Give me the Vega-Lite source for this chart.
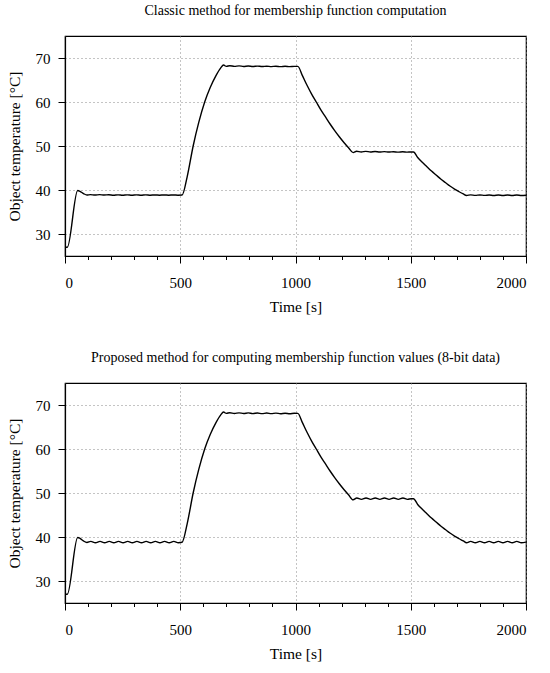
{
  "$schema": "https://vega.github.io/schema/vega-lite/v6.json",
  "background": "white",
  "padding": {"left": 6, "top": 3, "right": 14, "bottom": 4},
  "spacing": 34,
  "datasets": {
    "classic": [
      {"t":0,"temp":27},{"t":10,"temp":27},{"t":55,"temp":39.9},{"t":65,"temp":39.7},{"t":80,"temp":39.2},{"t":95,"temp":38.85},
      {"t":110,"temp":38.95},{"t":130,"temp":38.85},{"t":150,"temp":38.95},{"t":170,"temp":38.85},{"t":190,"temp":38.92},{"t":210,"temp":38.82},
      {"t":230,"temp":38.9},{"t":250,"temp":38.82},{"t":270,"temp":38.9},{"t":290,"temp":38.82},{"t":310,"temp":38.9},{"t":330,"temp":38.82},
      {"t":350,"temp":38.9},{"t":370,"temp":38.82},{"t":390,"temp":38.88},{"t":410,"temp":38.82},{"t":430,"temp":38.88},{"t":450,"temp":38.82},
      {"t":470,"temp":38.88},{"t":490,"temp":38.82},{"t":508,"temp":38.85},
      {"t":530,"temp":43},{"t":556,"temp":50},{"t":580,"temp":55.3},{"t":606,"temp":60},{"t":630,"temp":63.3},{"t":655,"temp":66},
      {"t":675,"temp":67.7},{"t":688,"temp":68.4},{"t":700,"temp":68.1},{"t":715,"temp":68.25},{"t":735,"temp":68.1},{"t":755,"temp":68.2},
      {"t":775,"temp":68.08},{"t":795,"temp":68.18},{"t":815,"temp":68.06},{"t":835,"temp":68.16},{"t":855,"temp":68.06},{"t":875,"temp":68.14},
      {"t":895,"temp":68.05},{"t":915,"temp":68.12},{"t":935,"temp":68.04},{"t":955,"temp":68.12},{"t":975,"temp":68.04},{"t":995,"temp":68.1},
      {"t":1010,"temp":68.1},
      {"t":1030,"temp":66},{"t":1050,"temp":63.8},{"t":1070,"temp":61.8},{"t":1090,"temp":60},{"t":1110,"temp":58.2},{"t":1130,"temp":56.6},
      {"t":1150,"temp":55},{"t":1170,"temp":53.5},{"t":1190,"temp":52.1},{"t":1210,"temp":50.8},{"t":1230,"temp":49.6},{"t":1250,"temp":48.5},
      {"t":1265,"temp":48.8},{"t":1285,"temp":48.65},{"t":1305,"temp":48.78},{"t":1325,"temp":48.65},{"t":1345,"temp":48.75},{"t":1365,"temp":48.62},
      {"t":1385,"temp":48.72},{"t":1405,"temp":48.62},{"t":1425,"temp":48.7},{"t":1445,"temp":48.6},{"t":1465,"temp":48.7},{"t":1485,"temp":48.6},
      {"t":1500,"temp":48.65},{"t":1512,"temp":48.65},
      {"t":1530,"temp":47.4},{"t":1550,"temp":46.3},{"t":1570,"temp":45.3},{"t":1590,"temp":44.3},{"t":1610,"temp":43.4},{"t":1630,"temp":42.5},
      {"t":1650,"temp":41.7},{"t":1670,"temp":40.9},{"t":1690,"temp":40.2},{"t":1710,"temp":39.6},{"t":1728,"temp":39.1},{"t":1742,"temp":38.75},
      {"t":1760,"temp":38.9},{"t":1780,"temp":38.78},{"t":1800,"temp":38.88},{"t":1820,"temp":38.78},{"t":1840,"temp":38.86},{"t":1860,"temp":38.76},
      {"t":1880,"temp":38.86},{"t":1900,"temp":38.76},{"t":1920,"temp":38.85},{"t":1940,"temp":38.76},{"t":1960,"temp":38.85},{"t":1980,"temp":38.76},
      {"t":2000,"temp":38.82}
    ],
    "proposed": [
      {"t":0,"temp":27},{"t":10,"temp":27},{"t":55,"temp":39.9},{"t":65,"temp":39.7},{"t":80,"temp":39.1},{"t":95,"temp":38.75},
      {"t":112,"temp":39.0},{"t":132,"temp":38.7},{"t":152,"temp":39.0},{"t":172,"temp":38.7},{"t":192,"temp":39.0},{"t":212,"temp":38.7},
      {"t":232,"temp":39.0},{"t":252,"temp":38.7},{"t":272,"temp":39.0},{"t":292,"temp":38.7},{"t":312,"temp":39.0},{"t":332,"temp":38.7},
      {"t":352,"temp":39.0},{"t":372,"temp":38.7},{"t":392,"temp":39.0},{"t":412,"temp":38.7},{"t":432,"temp":39.0},{"t":452,"temp":38.7},
      {"t":472,"temp":39.0},{"t":492,"temp":38.7},{"t":508,"temp":38.8},
      {"t":530,"temp":43},{"t":556,"temp":50},{"t":580,"temp":55.3},{"t":606,"temp":60},{"t":630,"temp":63.3},{"t":655,"temp":66},
      {"t":675,"temp":67.7},{"t":688,"temp":68.4},{"t":700,"temp":68.1},{"t":715,"temp":68.25},{"t":735,"temp":68.08},{"t":755,"temp":68.22},
      {"t":775,"temp":68.06},{"t":795,"temp":68.2},{"t":815,"temp":68.05},{"t":835,"temp":68.18},{"t":855,"temp":68.04},{"t":875,"temp":68.17},
      {"t":895,"temp":68.03},{"t":915,"temp":68.15},{"t":935,"temp":68.02},{"t":955,"temp":68.14},{"t":975,"temp":68.02},{"t":995,"temp":68.12},
      {"t":1010,"temp":68.1},
      {"t":1030,"temp":66},{"t":1050,"temp":63.8},{"t":1070,"temp":61.8},{"t":1090,"temp":60},{"t":1110,"temp":58.2},{"t":1130,"temp":56.6},
      {"t":1150,"temp":55},{"t":1170,"temp":53.5},{"t":1190,"temp":52.1},{"t":1210,"temp":50.8},{"t":1230,"temp":49.6},{"t":1250,"temp":48.45},
      {"t":1266,"temp":48.85},{"t":1286,"temp":48.55},{"t":1306,"temp":48.85},{"t":1326,"temp":48.55},{"t":1346,"temp":48.85},{"t":1366,"temp":48.55},
      {"t":1386,"temp":48.85},{"t":1406,"temp":48.55},{"t":1426,"temp":48.85},{"t":1446,"temp":48.55},{"t":1466,"temp":48.85},{"t":1486,"temp":48.55},
      {"t":1502,"temp":48.7},{"t":1512,"temp":48.7},
      {"t":1530,"temp":47.4},{"t":1550,"temp":46.3},{"t":1570,"temp":45.3},{"t":1590,"temp":44.3},{"t":1610,"temp":43.4},{"t":1630,"temp":42.5},
      {"t":1650,"temp":41.7},{"t":1670,"temp":40.9},{"t":1690,"temp":40.2},{"t":1710,"temp":39.6},{"t":1728,"temp":39.1},{"t":1742,"temp":38.7},
      {"t":1760,"temp":39.0},{"t":1780,"temp":38.7},{"t":1800,"temp":39.0},{"t":1820,"temp":38.7},{"t":1840,"temp":39.0},{"t":1860,"temp":38.7},
      {"t":1880,"temp":39.0},{"t":1900,"temp":38.7},{"t":1920,"temp":39.0},{"t":1940,"temp":38.7},{"t":1960,"temp":39.0},{"t":1980,"temp":38.7},
      {"t":2000,"temp":38.85}
    ]
  },
  "vconcat": [
    {
      "title": "Classic method for membership function computation",
      "data": {"name": "classic"},
      "width": 461,
      "height": 220,
      "mark": {"type": "line", "color": "black", "strokeWidth": 1.4, "interpolate": "monotone", "clip": true},
      "encoding": {
        "x": {"field": "t", "type": "quantitative", "title": "Time [s]",
              "scale": {"domain": [0, 2000], "nice": false, "zero": false},
              "axis": {"values": [0,100,200,300,400,500,600,700,800,900,1000,1100,1200,1300,1400,1500,1600,1700,1800,1900,2000],
                       "format": "d",
                       "labelExpr": "datum.value % 500 === 0 ? datum.label : ''",
                       "tickSize": {"condition": {"test": "datum.value % 500 === 0", "value": 7}, "value": 3.5},
                       "gridOpacity": {"condition": {"test": "datum.value % 500 === 0", "value": 1}, "value": 0}}},
        "y": {"field": "temp", "type": "quantitative", "title": "Object temperature [°C]",
              "scale": {"domain": [25, 75], "nice": false, "zero": false},
              "axis": {"values": [30, 40, 50, 60, 70]}}
      }
    },
    {
      "title": "Proposed method for computing membership function values (8-bit data)",
      "data": {"name": "proposed"},
      "width": 461,
      "height": 220,
      "mark": {"type": "line", "color": "black", "strokeWidth": 1.4, "interpolate": "monotone", "clip": true},
      "encoding": {
        "x": {"field": "t", "type": "quantitative", "title": "Time [s]",
              "scale": {"domain": [0, 2000], "nice": false, "zero": false},
              "axis": {"values": [0,100,200,300,400,500,600,700,800,900,1000,1100,1200,1300,1400,1500,1600,1700,1800,1900,2000],
                       "format": "d",
                       "labelExpr": "datum.value % 500 === 0 ? datum.label : ''",
                       "tickSize": {"condition": {"test": "datum.value % 500 === 0", "value": 7}, "value": 3.5},
                       "gridOpacity": {"condition": {"test": "datum.value % 500 === 0", "value": 1}, "value": 0}}},
        "y": {"field": "temp", "type": "quantitative", "title": "Object temperature [°C]",
              "scale": {"domain": [25, 75], "nice": false, "zero": false},
              "axis": {"values": [30, 40, 50, 60, 70]}}
      }
    }
  ],
  "config": {
    "font": "Liberation Serif",
    "view": {"stroke": "black", "strokeWidth": 1.2},
    "title": {"font": "Liberation Serif", "fontSize": 14, "fontWeight": "normal", "color": "black", "offset": 18, "anchor": "middle"},
    "axis": {
      "domainColor": "black", "domainWidth": 1.2,
      "tickColor": "black", "tickWidth": 1, "tickSize": 7,
      "labelFont": "Liberation Serif", "labelFontSize": 15, "labelColor": "black", "labelPadding": 6,
      "titleFont": "Liberation Serif", "titleFontSize": 15.5, "titleFontWeight": "normal", "titleColor": "black",
      "grid": true, "gridColor": "#888", "gridDash": [1, 3], "gridWidth": 1
    },
    "axisX": {"labelPadding": 12, "titlePadding": 9},
    "axisY": {"labelPadding": 8, "titlePadding": 13}
  }
}
